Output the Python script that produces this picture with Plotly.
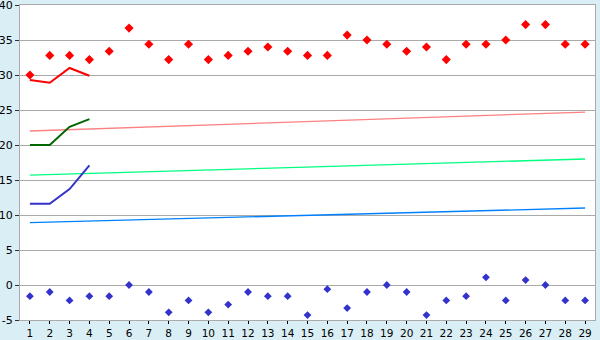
import plotly.graph_objects as go

categories = list(range(1, 30))
y_tickvals = [-5, 0, 5, 10, 15, 20, 25, 30, 35, 40]
y_ticktext = ["-5", "0", "5", "10", "15", "20", "25", "30", "35", "40"]
red_points = [30.0, 32.8, 32.8, 32.2, 33.4, 36.7, 34.4, 32.2, 34.4, 32.2,
              32.8, 33.4, 34.0, 33.4, 32.8, 32.8, 35.7, 35.0, 34.4, 33.4,
              34.0, 32.2, 34.4, 34.4, 35.0, 37.2, 37.2, 34.4, 34.4]
blue_points = [-1.6, -1.0, -2.2, -1.6, -1.6, 0.0, -1.0, -3.9, -2.2, -3.9,
               -2.8, -1.0, -1.6, -1.6, -4.3, -0.6, -3.3, -1.0, 0.0, -1.0,
               -4.3, -2.2, -1.6, 1.1, -2.2, 0.7, 0.0, -2.2, -2.2]
line_x = [1, 2, 3, 4]
red_line = [29.3, 28.9, 31.0, 29.9]
green_line = [20.0, 20.0, 22.6, 23.7]
blue_line = [11.6, 11.6, 13.7, 17.1]
trend_x = [1, 29]
pink_trend = [22.0, 24.7]
green_trend = [15.7, 18.0]
blue_trend = [8.9, 11.0]

fig = go.Figure()
for ys, col in [(pink_trend, '#FF8080'), (green_trend, '#00FF80'), (blue_trend, '#0080FF')]:
    fig.add_trace(go.Scatter(x=trend_x, y=ys, mode='lines',
                             line=dict(color=col, width=1.3), hoverinfo='skip'))
for ys, col in [(red_line, '#FF0000'), (green_line, '#006600'), (blue_line, '#3333CC')]:
    fig.add_trace(go.Scatter(x=line_x, y=ys, mode='lines',
                             line=dict(color=col, width=2)))
fig.add_trace(go.Scatter(x=categories, y=red_points, mode='markers',
                         marker=dict(symbol='diamond', size=7, color='#FF0000')))
fig.add_trace(go.Scatter(x=categories, y=blue_points, mode='markers',
                         marker=dict(symbol='diamond', size=6, color='#3333CC')))

fig.update_layout(
    width=600, height=340,
    margin=dict(l=20, r=5, t=5, b=20),
    paper_bgcolor='#D9EEF5', plot_bgcolor='#FFFFFF',
    showlegend=False,
    font=dict(family='DejaVu Sans', size=11, color='#000000'),
)
fig.update_xaxes(range=[0.5, 29.5], tickvals=categories, ticktext=[str(c) for c in categories],
                 showgrid=False, zeroline=False, showline=True, linecolor='#AAAAAA',
                 linewidth=1, mirror=True, ticks='outside', ticklen=3, tickcolor='#000000',
                 tickfont=dict(size=10.5), ticklabeloverflow='allow', automargin=False)
fig.update_yaxes(range=[-5, 40], tickvals=y_tickvals, ticktext=y_ticktext,
                 showgrid=True, gridcolor='#AAAAAA', gridwidth=1,
                 zeroline=False, showline=True, linecolor='#AAAAAA', linewidth=1, mirror=True,
                 ticks='outside', ticklen=4, tickcolor='#333333', tickfont=dict(size=11),
                 ticklabeloverflow='allow', automargin=False)

fig.write_html("out.html")
